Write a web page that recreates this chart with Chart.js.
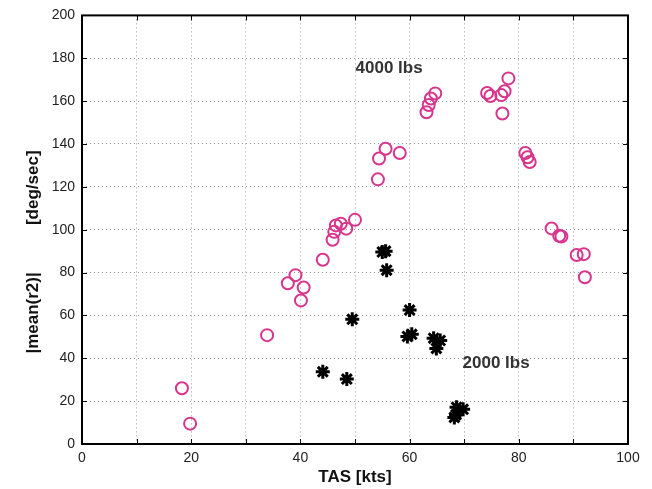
<!DOCTYPE html>
<html><head><meta charset="utf-8">
<style>html,body{margin:0;padding:0;background:#fff}canvas{display:block}</style>
<script src="https://cdn.jsdelivr.net/npm/chart.js@4"></script>
</head><body>
<canvas id="c" width="652" height="489"></canvas>
<script>
// ---- data ----
const xTickValues = [0,10,20,30,40,50,60,70,80,90,100];
const xTickLabels = ['0','','20','','40','','60','','80','','100'];
const yTickValues = [0,20,40,60,80,100,120,140,160,180,200];
const yTickLabels = ['0','20','40','60','80','100','120','140','160','180','200'];

const heavyTAS  = [18.3,19.8,33.9,37.7,39.1,40.6,40.1,44.1,45.9,46.2,46.5,47.4,48.4,50.0,54.2,54.4,55.6,58.2,63.1,63.5,63.9,64.7,74.2,74.8,77.0,76.8,77.4,78.1,81.2,81.6,82.0,86.0,87.4,87.8,90.6,91.9,92.1];
const heavyRate = [26.0, 9.5,50.8,75.0,78.8,73.0,67.0,86.0,95.3,99.0,102.0,102.8,100.5,104.6,123.5,133.2,137.8,135.8,154.8,158.2,161.2,163.6,163.8,162.4,154.2,162.8,164.6,170.6,135.8,133.8,131.6,100.6,97.2,96.8,88.2,88.6,77.8];

const lightTAS  = [44.1,48.5,49.5,55.0,55.6,55.8,60.0,59.6,60.4,64.4,65.6,64.9,68.6,69.8,68.5,68.2];
const lightRate = [33.7,30.3,58.2,89.6,90.0,81.1,62.5,50.2,51.2,49.4,48.3,44.6,17.2,16.2,13.6,12.4];

const noteTexts = ['4000 lbs','2000 lbs'];
const noteX = [50.1, 69.7];
const noteY = [175.3, 37.8];

const xTitle = 'TAS [kts]';
const yTitle = '|mean(r2)|          [deg/sec]';

// ---- chart ----
const heavyPts = heavyTAS.map((x,i)=>({x, y: heavyRate[i]}));
const lightPts = lightTAS.map((x,i)=>({x, y: lightRate[i]}));

const FONT = "'Liberation Sans', Arial, Helvetica, sans-serif";

const framePlugin = {
  id: 'frame',
  afterDatasetsDraw(chart) {
    const {ctx, scales:{x, y}} = chart;
    ctx.save();
    ctx.fillStyle = '#333';
    ctx.font = 'bold 17px ' + FONT;
    ctx.textBaseline = 'middle';
    ctx.textAlign = 'left';
    noteTexts.forEach((t,i)=>{
      ctx.fillText(t, x.getPixelForValue(noteX[i]), y.getPixelForValue(noteY[i]));
    });
    ctx.restore();
  },
  afterDraw(chart) {
    const {ctx, chartArea:a, scales:{x, y}} = chart;
    ctx.save();
    ctx.strokeStyle = '#000';
    ctx.lineWidth = 1;
    const L = 5;
    ctx.beginPath();
    xTickValues.forEach(v=>{
      const px = Math.round(x.getPixelForValue(v)) + 0.5;
      ctx.moveTo(px, a.bottom); ctx.lineTo(px, a.bottom - L);
      ctx.moveTo(px, a.top); ctx.lineTo(px, a.top + L);
    });
    yTickValues.forEach(v=>{
      const py = Math.round(y.getPixelForValue(v)) + 0.5;
      ctx.moveTo(a.left, py); ctx.lineTo(a.left + L, py);
      ctx.moveTo(a.right, py); ctx.lineTo(a.right - L, py);
    });
    ctx.stroke();
    ctx.lineWidth = 2;
    ctx.strokeRect(a.left, a.top, a.right - a.left, a.bottom - a.top);
    // axis titles
    ctx.fillStyle = '#111';
    ctx.font = 'bold 17px ' + FONT;
    ctx.textAlign = 'center';
    ctx.textBaseline = 'middle';
    ctx.fillText(xTitle, (a.left + a.right)/2, 477);
    ctx.translate(33, 252);
    ctx.rotate(-Math.PI/2);
    ctx.fillText(yTitle, 0, 0);
    ctx.restore();
  }
};

new Chart(document.getElementById('c'), {
  type: 'scatter',
  data: {
    datasets: [
      { label: '4000 lbs', data: heavyPts, pointStyle: 'circle', pointRadius: 6,
        borderColor: '#d8358c', backgroundColor: 'rgba(0,0,0,0)', borderWidth: 2, pointHoverRadius: 6 },
      { label: '2000 lbs', data: lightPts, pointStyle: 'star', pointRadius: 7,
        borderColor: '#000', backgroundColor: '#000', borderWidth: 3, pointHoverRadius: 7 }
    ]
  },
  options: {
    responsive: false,
    animation: false,
    devicePixelRatio: 1,
    layout: { padding: { top: 13, right: 24, left: 0, bottom: 0 } },
    plugins: { legend: { display: false }, tooltip: { enabled: false } },
    scales: {
      x: {
        type: 'linear', min: 0, max: 100,
        afterFit(s) { s.height = 45; },
        afterBuildTicks(s) { s.ticks = xTickValues.map(v=>({value: v})); },
        ticks: { autoSkip: false, maxRotation: 0, padding: 6, color: '#222',
          font: { family: FONT, size: 14 },
          callback: (v)=> xTickLabels[xTickValues.indexOf(v)] },
        grid: { color: '#999', lineWidth: 1, drawTicks: false },
        border: { display: false, dash: [1,3] }
      },
      y: {
        type: 'linear', min: 0, max: 200,
        afterFit(s) { s.width = 82; },
        afterBuildTicks(s) { s.ticks = yTickValues.map(v=>({value: v})); },
        ticks: { autoSkip: false, padding: 7, color: '#222',
          font: { family: FONT, size: 14 },
          callback: (v)=> yTickLabels[yTickValues.indexOf(v)] },
        grid: { color: '#999', lineWidth: 1, drawTicks: false },
        border: { display: false, dash: [1,3] }
      }
    }
  },
  plugins: [framePlugin]
});
</script>
</body></html>
